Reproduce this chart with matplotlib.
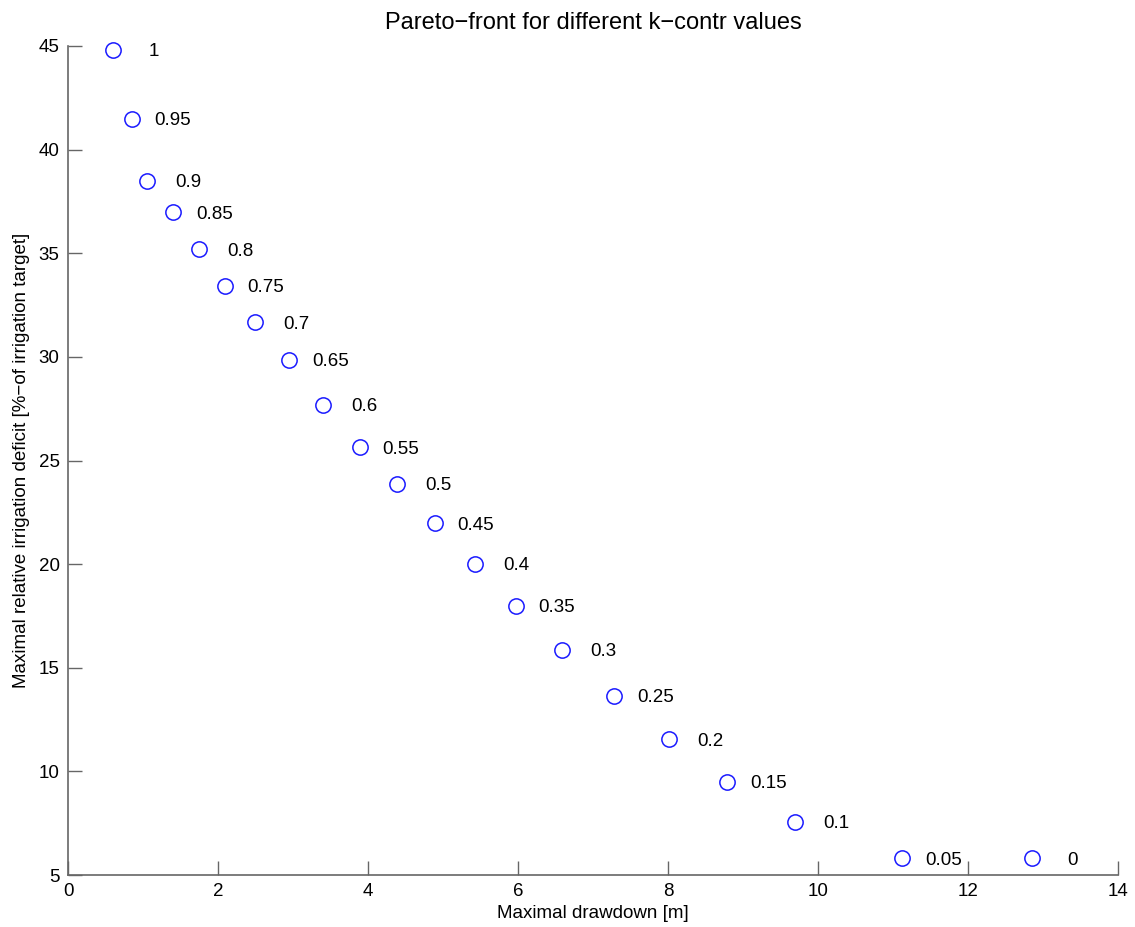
import matplotlib
matplotlib.use('Agg')
import matplotlib.pyplot as plt

plt.rcParams['font.family'] = ['Liberation Sans', 'DejaVu Sans']

# Pareto-front data
k_contr = ['1', '0.95', '0.9', '0.85', '0.8', '0.75', '0.7', '0.65', '0.6',
           '0.55', '0.5', '0.45', '0.4', '0.35', '0.3', '0.25', '0.2',
           '0.15', '0.1', '0.05', '0']
drawdown = [0.60, 0.85, 1.05, 1.40, 1.75, 2.09, 2.49, 2.95, 3.40, 3.89,
            4.39, 4.89, 5.43, 5.97, 6.59, 7.28, 8.01, 8.79, 9.69, 11.12,
            12.85]
deficit = [44.81, 41.48, 38.49, 36.99, 35.20, 33.42, 31.68, 29.85, 27.68,
           25.65, 23.87, 21.98, 20.01, 17.98, 15.86, 13.64, 11.56, 9.49,
           7.56, 5.82, 5.82]

fig = plt.figure(figsize=(11.35, 9.27), dpi=100)
fig.patch.set_facecolor('white')
ax = fig.add_axes([68 / 1135, 52 / 927, 1050 / 1135, 829 / 927])

ax.plot(drawdown, deficit, 'o', mfc='none', mec='#1a1aff', ms=11, mew=1.1,
        linestyle='none', clip_on=False)

for x, y, lbl in zip(drawdown, deficit, k_contr):
    ax.text(x + 0.55, y, lbl, ha='center', va='center_baseline',
            fontsize=13.5)

ax.set_xlim(0, 14)
ax.set_ylim(5, 45)
ax.set_xticks(range(0, 15, 2))
ax.set_yticks(range(5, 46, 5))

for side in ['top', 'right']:
    ax.spines[side].set_visible(False)
for side in ['left', 'bottom']:
    ax.spines[side].set_color('#666666')
    ax.spines[side].set_linewidth(1.2)
ax.tick_params(direction='in', length=10, width=1, color='#666666',
               labelsize=13.5, pad=6)

ax.set_title('Pareto\u2212front for different k\u2212contr values',
             fontsize=17, pad=12)
ax.set_xlabel('Maximal drawdown [m]', fontsize=13.5, labelpad=3)
ax.set_ylabel('Maximal relative irrigation deficit [%\u2212of irrigation target]',
              fontsize=13.5, labelpad=6)

fig.savefig('out.png', dpi=100)
